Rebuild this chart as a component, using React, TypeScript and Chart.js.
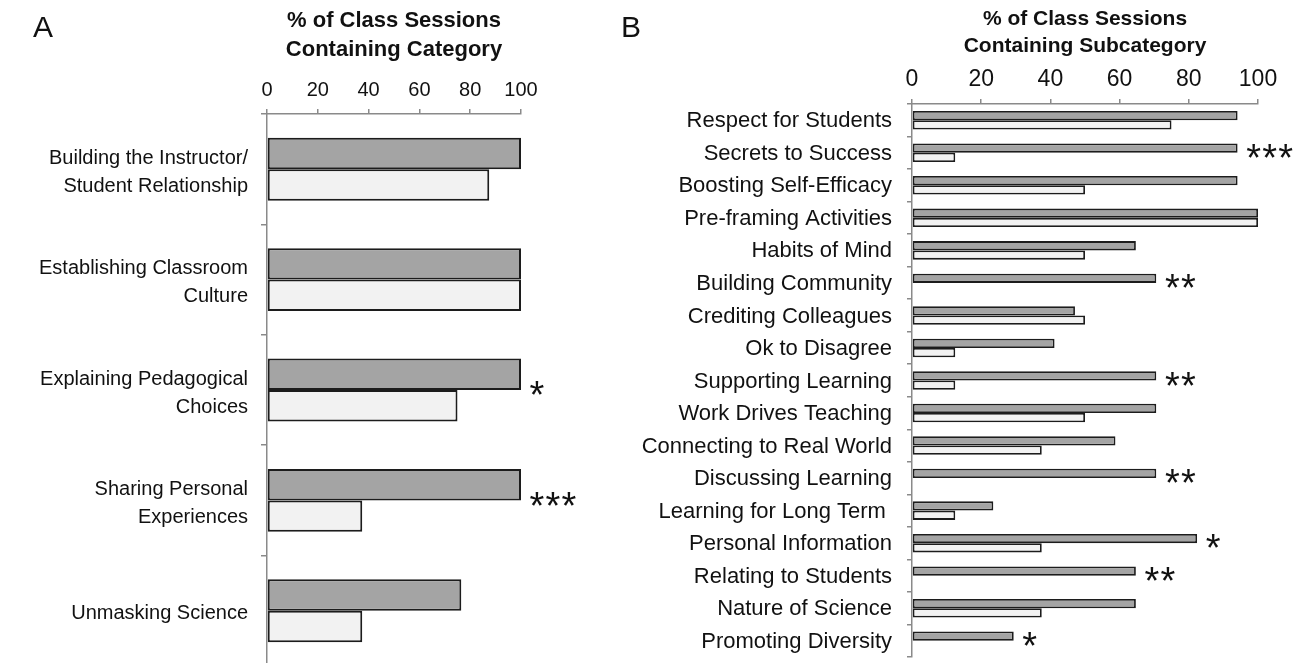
import React, { useEffect, useRef } from 'react';
import { Chart, registerables } from 'chart.js';
Chart.register(...registerables);

const FONT = "'Liberation Sans', Arial, Helvetica, sans-serif";

// ---------- Panel A data ----------
const categoriesA: (string | string[])[] = [
  ['Building the Instructor/', 'Student Relationship'],
  ['Establishing Classroom', 'Culture'],
  ['Explaining Pedagogical', 'Choices'],
  ['Sharing Personal', 'Experiences'],
  'Unmasking Science',
];
const darkA = [100, 100, 100, 100, 76.5];
const lightA = [87.5, 100, 75, 37.5, 37.5];
const sigA = ['', '', '*', '***', ''];
const titleA = ['% of Class Sessions', 'Containing Category'];

// ---------- Panel B data ----------
const categoriesB = [
  'Respect for Students',
  'Secrets to Success',
  'Boosting Self-Efficacy',
  'Pre-framing Activities',
  'Habits of Mind',
  'Building Community',
  'Crediting Colleagues',
  'Ok to Disagree',
  'Supporting Learning',
  'Work Drives Teaching',
  'Connecting to Real World',
  'Discussing Learning',
  'Learning for Long Term ',
  'Personal Information',
  'Relating to Students',
  'Nature of Science',
  'Promoting Diversity',
];
const darkB = [94.1, 94.1, 94.1, 100, 64.7, 70.6, 47.1, 41.2, 70.6, 70.6, 58.8, 70.6, 23.5, 82.4, 64.7, 64.7, 29.4];
const lightB = [75, 12.5, 50, 100, 50, 0, 50, 12.5, 12.5, 50, 37.5, 0, 12.5, 37.5, 0, 37.5, 0];
const sigB = ['', '***', '', '', '', '**', '', '', '**', '', '', '**', '', '*', '**', '', '*'];
const titleB = ['% of Class Sessions', 'Containing Subcategory'];

const xTicks = [0, 20, 40, 60, 80, 100];

const DARK_FILL = '#a4a4a4';
const LIGHT_FILL = '#f2f2f2';
const BORDER = '#1c1c1c';
const AXIS = '#8a8a8a';

function starsPlugin(sig: string[], fontSize: number, gap: number, spacing: number) {
  return {
    id: 'sigStars',
    afterDatasetsDraw(chart: any) {
      const ctx = chart.ctx;
      const m0 = chart.getDatasetMeta(0);
      const m1 = chart.getDatasetMeta(1);
      ctx.save();
      ctx.fillStyle = '#111';
      ctx.font = `${fontSize}px ${FONT}`;
      ctx.textAlign = 'center';
      ctx.textBaseline = 'alphabetic';
      sig.forEach((s, i) => {
        if (!s) return;
        const b0 = m0.data[i];
        const b1 = m1.data[i];
        const cy = (b0.y + b1.y) / 2 + 3;
        for (let k = 0; k < s.length; k++) {
          const cx = b0.x + gap + spacing / 2 + spacing * k;
          ctx.fillText('*', cx, cy + fontSize * 0.4);
        }
      });
      ctx.restore();
    },
  };
}

function letterPlugin(letter: string, x: number, y: number) {
  return {
    id: 'panelLetter',
    afterDraw(chart: any) {
      const ctx = chart.ctx;
      ctx.save();
      ctx.fillStyle = '#111';
      ctx.font = `30px ${FONT}`;
      ctx.textAlign = 'left';
      ctx.textBaseline = 'alphabetic';
      ctx.fillText(letter, x, y);
      ctx.restore();
    },
  };
}

type PanelCfg = {
  labels: (string | string[])[];
  dark: number[];
  light: number[];
  sig: string[];
  title: string[];
  yWidth: number;
  xHeight: number;
  padRight: number;
  padBottom: number;
  labelFont: number;
  labelLineHeight: number;
  labelPad: number;
  labelOffset: number;
  yTickLen: number;
  tickFont: number;
  tickPad: number;
  titleFont: number;
  titleLineHeight: number;
  titlePadTop: number;
  borderWidth: number;
  starFont: number;
  starGap: number;
  starSpacing: number;
  letter: string;
  letterX: number;
  letterY: number;
};

function buildChart(canvas: HTMLCanvasElement, c: PanelCfg) {
  return new Chart(canvas, {
    type: 'bar',
    data: {
      labels: c.labels,
      datasets: [
        {
          data: c.dark,
          backgroundColor: DARK_FILL,
          borderColor: BORDER,
          borderWidth: c.borderWidth,
          borderSkipped: false,
          categoryPercentage: 0.57,
          barPercentage: 1,
        },
        {
          data: c.light,
          backgroundColor: LIGHT_FILL,
          borderColor: BORDER,
          borderWidth: c.borderWidth,
          borderSkipped: false,
          categoryPercentage: 0.57,
          barPercentage: 1,
        },
      ],
    },
    options: {
      indexAxis: 'y',
      animation: false,
      responsive: false,
      maintainAspectRatio: false,
      events: [],
      layout: { padding: { left: 0, top: 0, right: c.padRight, bottom: c.padBottom } },
      plugins: {
        legend: { display: false },
        tooltip: { enabled: false },
        title: { display: false },
      },
      scales: {
        x: {
          type: 'linear',
          position: 'top',
          min: 0,
          max: 100,
          afterBuildTicks: (scale: any) => {
            scale.ticks = xTicks.map((v) => ({ value: v }));
          },
          afterFit: (scale: any) => {
            scale.height = c.xHeight;
            scale.paddingLeft = 0;
            scale.paddingRight = 0;
          },
          ticks: {
            color: '#111',
            font: { family: FONT, size: c.tickFont },
            padding: c.tickPad,
            maxRotation: 0,
          },
          grid: {
            drawOnChartArea: false,
            drawTicks: true,
            tickLength: 5,
            color: AXIS,
            lineWidth: 1.5,
          },
          border: { display: true, color: AXIS, width: 1.5 },
          title: {
            display: true,
            text: c.title,
            color: '#111',
            font: { family: FONT, size: c.titleFont, weight: 'bold', lineHeight: c.titleLineHeight / c.titleFont },
            padding: { top: c.titlePadTop, bottom: 0 },
          },
        },
        y: {
          type: 'category',
          afterFit: (scale: any) => {
            scale.width = c.yWidth;
            scale.paddingTop = 0;
            scale.paddingBottom = 0;
          },
          ticks: {
            color: '#111',
            font: { family: FONT, size: c.labelFont, lineHeight: c.labelLineHeight / c.labelFont },
            padding: c.labelPad,
            labelOffset: c.labelOffset,
            autoSkip: false,
          },
          grid: {
            offset: true,
            drawOnChartArea: false,
            drawTicks: true,
            tickLength: c.yTickLen,
            color: AXIS,
            lineWidth: 1.5,
          },
          border: { display: true, color: AXIS, width: 1.5 },
        },
      },
    } as any,
    plugins: [
      starsPlugin(c.sig, c.starFont, c.starGap, c.starSpacing) as any,
      letterPlugin(c.letter, c.letterX, c.letterY) as any,
    ],
  });
}

export default function App() {
  const refA = useRef<HTMLCanvasElement>(null);
  const refB = useRef<HTMLCanvasElement>(null);

  useEffect(() => {
    const chartA = buildChart(refA.current!, {
      labels: categoriesA,
      dark: darkA,
      light: lightA,
      sig: sigA,
      title: titleA,
      yWidth: 267,
      xHeight: 114,
      padRight: 600 - 521,
      padBottom: 670 - 666,
      labelFont: 20,
      labelLineHeight: 28,
      labelPad: 13,
      labelOffset: 3,
      yTickLen: 6,
      tickFont: 20,
      tickPad: 7,
      titleFont: 22,
      titleLineHeight: 29,
      titlePadTop: 6.5,
      borderWidth: 2,
      starFont: 38,
      starGap: 8,
      starSpacing: 16,
      letter: 'A',
      letterX: 33,
      letterY: 37,
    });
    const chartB = buildChart(refB.current!, {
      labels: categoriesB,
      dark: darkB,
      light: lightB,
      sig: sigB,
      title: titleB,
      yWidth: 312,
      xHeight: 104,
      padRight: 703 - 658,
      padBottom: 663 - 657,
      labelFont: 22,
      labelLineHeight: 26,
      labelPad: 15,
      labelOffset: 1,
      yTickLen: 5,
      tickFont: 23,
      tickPad: 5.5,
      titleFont: 21,
      titleLineHeight: 27,
      titlePadTop: 5.5,
      borderWidth: 1.8,
      starFont: 38,
      starGap: 8,
      starSpacing: 16,
      letter: 'B',
      letterX: 21,
      letterY: 37,
    });
    return () => {
      chartA.destroy();
      chartB.destroy();
    };
  }, []);

  return (
    <div
      style={{
        position: 'absolute',
        left: 0,
        top: 0,
        width: 1303,
        height: 663,
        overflow: 'hidden',
        background: '#ffffff',
      }}
    >
      <canvas
        ref={refA}
        width={600}
        height={670}
        style={{ position: 'absolute', left: 0, top: 0, width: 600, height: 670 }}
      />
      <canvas
        ref={refB}
        width={703}
        height={663}
        style={{ position: 'absolute', left: 600, top: 0, width: 703, height: 663 }}
      />
    </div>
  );
}
